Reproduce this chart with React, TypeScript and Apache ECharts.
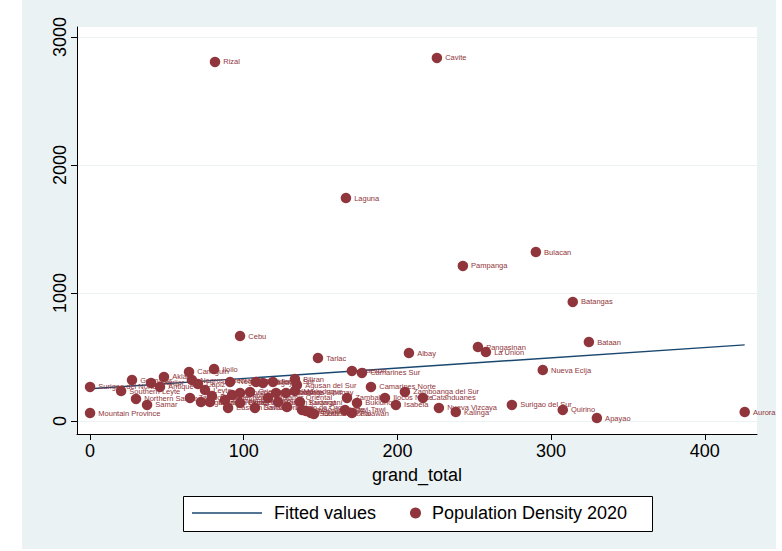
import React, { useEffect, useRef } from "react";
import * as echarts from "echarts";

const provinces = [
  "Rizal", "Cavite", "Laguna", "Bulacan", "Pampanga", "Batangas", "Cebu", "Bataan",
  "Pangasinan", "La Union", "Albay", "Tarlac", "Nueva Ecija", "Iloilo", "Camiguin",
  "Quezon", "Camarines Sur", "Camarines Norte", "Zamboanga del Sur", "Catanduanes",
  "Ilocos Norte", "Zambales", "Bukidnon", "Isabela", "Nueva Vizcaya", "Kalinga",
  "Surigao del Sur", "Quirino", "Apayao", "Aurora", "Palawan", "Mountain Province",
  "Surigao del Norte", "Southern Leyte", "Northern Samar", "Samar", "Eastern Samar",
  "Biliran", "Sarangani", "Guimaras", "Siquijor", "Aklan", "Antique", "Negros Oriental",
  "Capiz", "Leyte", "Bohol", "Zamboanga del Norte", "Agusan del Norte", "Misamis Occidental",
  "Negros Occidental", "Romblon", "Sorsogon", "Lanao del Norte", "Occidental Mindoro",
  "Oriental Mindoro", "Abra", "Davao Oriental", "Cagayan", "Ilocos Sur", "Misamis Oriental",
  "Zamboanga Sibugay", "Sultan Kudarat", "Davao de Oro", "Agusan del Sur", "Marinduque",
  "Masbate", "Davao del Norte", "Maguindanao", "South Cotabato", "Cotabato", "Tawi-Tawi",
];

const grandTotal = [
  81.3, 225.7, 166.5, 290.1, 242.6, 314.1, 97.6, 324.6,
  252.4, 257.6, 207.5, 148.3, 294.6, 80.7, 64.4,
  170.4, 176.9, 182.8, 204.9, 216.6,
  191.9, 167.2, 173.7, 199.0, 227.0, 238.0,
  274.5, 307.6, 329.8, 426.0, 170.4, 0,
  0, 20.2, 29.9, 37.1, 89.8,
  133.3, 136.6, 27.3, 39.7, 48.1, 45.5, 66.3,
  70.2, 74.8, 79.3, 65.0, 72.2, 78.0,
  91.1, 92.4, 97.6, 97.6, 87.8,
  104.1, 108.0, 107.3, 112.5, 119.0, 115.8,
  121.0, 122.3, 128.1, 134.6, 133.3,
  127.5, 137.9, 140.5, 143.7, 145.7, 165.9,
];

const popDensity = [
  2805, 2836, 1742, 1320, 1211, 930, 664, 617,
  578, 539, 531, 492, 398, 406, 383,
  391, 375, 266, 227, 180,
  180, 180, 141, 125, 102, 70,
  125, 86, 23, 70, 62, 62,
  266, 234, 172, 125, 102,
  328, 148, 320, 297, 344, 266, 320,
  289, 242, 195, 180, 148, 148,
  305, 203, 219, 141, 164,
  227, 305, 102, 297, 305, 180,
  219, 148, 109, 281, 234,
  219, 86, 78, 62, 55, 86,
];

const fitX = [0, 426];
const fitY = [252, 595];

const xTicks = [0, 100, 200, 300, 400];
const yTicks = [0, 1000, 2000, 3000];

const NAVY = "#1A476F";
const MAROON = "#90353B";
const BG = "#EAF2F3";
const FONT = "'Liberation Sans', Arial, Helvetica, sans-serif";

export default function App() {
  const ref = useRef<HTMLDivElement>(null);

  useEffect(() => {
    if (!ref.current) return;
    const chart = echarts.init(ref.current, undefined, { renderer: "svg" });
    const scatterData = provinces.map((n, i) => ({ name: n, value: [grandTotal[i], popDensity[i]] }));
    const fitData = fitX.map((x, i) => [x, fitY[i]]);

    chart.setOption({
      animation: false,
      textStyle: { fontFamily: FONT },
      grid: { left: 77, right: 25, top: 27, bottom: 117 },
      graphic: [
        { type: "rect", z: -10, silent: true, shape: { x: 22, y: 0, width: 754, height: 549 }, style: { fill: BG } },
        { type: "rect", z: -5, silent: true, shape: { x: 77, y: 27, width: 680, height: 407 }, style: { fill: "#fff" } },
        { type: "rect", z: 1, silent: true, shape: { x: 183.5, y: 496.5, width: 469, height: 35 }, style: { fill: "#fff", stroke: "#000", lineWidth: 1 } },
      ],
      xAxis: {
        type: "value",
        min: -8.5,
        max: 434,
        axisLine: { show: true, onZero: false, lineStyle: { color: "#000", width: 1 } },
        axisTick: { show: true, customValues: xTicks, length: 6, lineStyle: { color: "#000" } },
        axisLabel: { customValues: xTicks, fontSize: 18, color: "#000", margin: 8, fontFamily: FONT, formatter: (v: number) => String(v) },
        splitLine: { show: false },
        name: "grand_total",
        nameLocation: "middle",
        nameGap: 32,
        nameTextStyle: { fontSize: 18, color: "#000", fontFamily: FONT },
      },
      yAxis: {
        type: "value",
        min: -101.6,
        max: 3078,
        axisLine: { show: true, onZero: false, lineStyle: { color: "#000", width: 1 } },
        axisTick: { show: true, customValues: yTicks, length: 6, lineStyle: { color: "#000" } },
        axisLabel: { customValues: yTicks, rotate: 90, fontSize: 18, color: "#000", margin: 8, fontFamily: FONT, formatter: (v: number) => String(v) },
        splitLine: { show: true, lineStyle: { color: BG, width: 1 } },
      },
      legend: [
        {
          data: [{ name: "Fitted values", icon: "rect" }],
          left: 192,
          top: 504,
          padding: 0,
          itemWidth: 70,
          itemHeight: 1.5,
          textStyle: { fontSize: 18, color: "#000", padding: [0, 0, 0, 7], fontFamily: FONT },
        },
        {
          data: [{ name: "Population Density 2020", icon: "circle" }],
          left: 410,
          top: 504,
          padding: 0,
          itemWidth: 11,
          itemHeight: 11,
          textStyle: { fontSize: 18, color: "#000", padding: [0, 0, 0, 6], fontFamily: FONT },
        },
      ],
      series: [
        {
          name: "Fitted values",
          type: "line",
          data: fitData,
          symbol: "none",
          z: 2,
          lineStyle: { color: NAVY, width: 1.4 },
          itemStyle: { color: NAVY },
        },
        {
          name: "Population Density 2020",
          type: "scatter",
          data: scatterData,
          symbolSize: 10.5,
          z: 3,
          itemStyle: { color: MAROON, opacity: 1 },
          label: {
            show: true,
            formatter: "{b}",
            position: "right",
            distance: 3,
            fontSize: 7.5,
            color: MAROON,
            fontFamily: FONT,
          },
        },
      ],
    });
    return () => chart.dispose();
  }, []);

  return (
    <div
      ref={ref}
      style={{ position: "absolute", left: 0, top: 0, width: 782, height: 551, background: "#fff" }}
    />
  );
}
